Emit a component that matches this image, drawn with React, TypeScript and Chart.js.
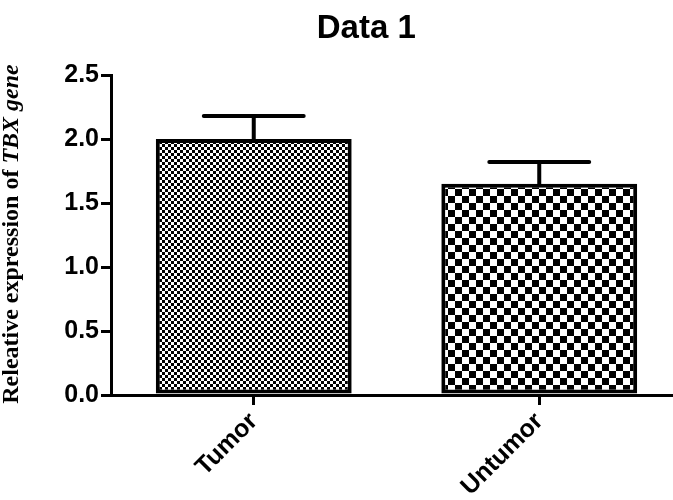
import React, { useEffect, useRef } from "react";
import { Chart, registerables } from "chart.js";

Chart.register(...registerables);

const categories = ["Tumor", "Untumor"];
const means = [2.0, 1.65];
const errors = [0.18, 0.17];
const yTicks = [0, 0.5, 1.0, 1.5, 2.0, 2.5];
const titleText = "Data 1";
const yTitleNormal = "Releative expression of ";
const yTitleItalic = "TBX gene";

function makePattern(cell: number): CanvasPattern {
  const c = document.createElement("canvas");
  c.width = cell * 2;
  c.height = cell * 2;
  const x = c.getContext("2d")!;
  x.fillStyle = "#ffffff";
  x.fillRect(0, 0, cell * 2, cell * 2);
  x.fillStyle = "#000000";
  x.fillRect(0, 0, cell, cell);
  x.fillRect(cell, cell, cell, cell);
  return x.createPattern(c, "repeat")!;
}

const errorBarPlugin = {
  id: "errorBars",
  afterDatasetsDraw(chart: any) {
    const ctx = chart.ctx;
    const meta = chart.getDatasetMeta(0);
    const y = chart.scales.y;
    ctx.save();
    ctx.strokeStyle = "#000";
    ctx.lineWidth = 4;
    ctx.lineCap = "round";
    meta.data.forEach((el: any, i: number) => {
      const top = y.getPixelForValue(means[i] + errors[i]);
      const half = el.width * 0.255;
      ctx.beginPath();
      ctx.moveTo(el.x, el.y);
      ctx.lineTo(el.x, top);
      ctx.moveTo(el.x - half, top);
      ctx.lineTo(el.x + half, top);
      ctx.stroke();
    });
    ctx.restore();
  },
};

const textPlugin = {
  id: "texts",
  afterDraw(chart: any) {
    const ctx = chart.ctx;
    const ca = chart.chartArea;
    ctx.save();
    // title
    ctx.fillStyle = "#000";
    ctx.font = "bold 33px 'Liberation Sans', Arial, sans-serif";
    ctx.textAlign = "center";
    ctx.textBaseline = "alphabetic";
    ctx.fillText(titleText, ca.left + (ca.right - ca.left) * 0.447, 38);
    // y title
    const fNormal = "bold 24px 'Liberation Serif', 'Times New Roman', serif";
    const fItalic = "italic bold 24px 'Liberation Serif', 'Times New Roman', serif";
    ctx.font = fNormal;
    const w1 = ctx.measureText(yTitleNormal).width;
    ctx.font = fItalic;
    const w2 = ctx.measureText(yTitleItalic).width;
    const total = w1 + w2;
    const cy = (ca.top + ca.bottom) / 2 - 1;
    ctx.translate(18, cy);
    ctx.rotate(-Math.PI / 2);
    ctx.textAlign = "left";
    ctx.font = fNormal;
    ctx.fillText(yTitleNormal, -total / 2, 0);
    ctx.font = fItalic;
    ctx.fillText(yTitleItalic, -total / 2 + w1, 0);
    ctx.restore();
  },
};

export default function App() {
  const ref = useRef<HTMLCanvasElement | null>(null);
  useEffect(() => {
    document.body.style.margin = "0";
    document.body.style.overflow = "hidden";
    const canvas = ref.current!;
    const chart = new Chart(canvas, {
      type: "bar",
      data: {
        labels: categories,
        datasets: [
          {
            data: means,
            backgroundColor: [makePattern(3), makePattern(7)] as any,
            borderColor: "#000",
            borderWidth: 4,
            borderSkipped: false,
            barPercentage: 0.686,
            categoryPercentage: 1,
          },
        ],
      },
      options: {
        animation: false,
        responsive: false,
        maintainAspectRatio: false,
        devicePixelRatio: 1,
        layout: { padding: { top: 75, left: 0, right: 0, bottom: 0 } },
        plugins: {
          legend: { display: false },
          title: { display: false },
          tooltip: { enabled: false },
        },
        scales: {
          x: {
            offset: true,
            afterFit: (s: any) => {
              s.height = 105;
            },
            grid: {
              offset: false,
              drawOnChartArea: false,
              color: "#000",
              lineWidth: 3,
              tickLength: 10,
            },
            border: { color: "#000", width: 3 },
            ticks: {
              color: "#000",
              font: { family: "'Liberation Sans', Arial, sans-serif", size: 25, weight: "bold" },
              minRotation: 45,
              maxRotation: 45,
              padding: 2,
            },
          },
          y: {
            min: 0,
            max: 2.5,
            afterFit: (s: any) => {
              s.width = 111;
            },
            afterBuildTicks: (s: any) => {
              s.ticks = yTicks.map((v) => ({ value: v }));
            },
            grid: {
              drawOnChartArea: false,
              color: "#000",
              lineWidth: 3,
              tickLength: 10,
            },
            border: { color: "#000", width: 3 },
            ticks: {
              color: "#000",
              font: { family: "'Liberation Sans', Arial, sans-serif", size: 25, weight: "bold" },
              padding: 2,
              callback: (v: any) => Number(v).toFixed(1),
            },
          },
        },
      },
      plugins: [errorBarPlugin, textPlugin],
    });
    return () => chart.destroy();
  }, []);
  return (
    <div style={{ position: "fixed", left: 0, top: 0, width: 682, height: 500, background: "#fff" }}>
      <canvas ref={ref} width={682} height={500} style={{ display: "block", width: 682, height: 500 }} />
    </div>
  );
}
